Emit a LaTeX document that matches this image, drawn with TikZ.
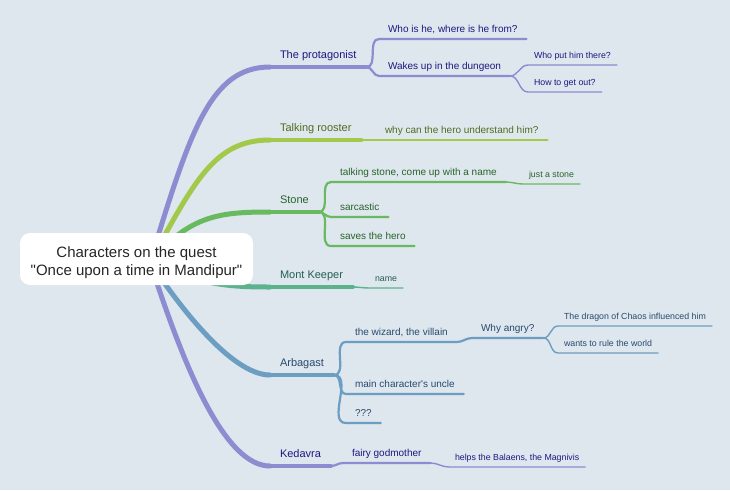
\documentclass[tikz,border=0pt]{standalone}
\usepackage{fontspec}
\setmainfont{Liberation Sans}
\usetikzlibrary{backgrounds}
\definecolor{mapbg}{RGB}{222,230,238}
\definecolor{purpline}{RGB}{140,140,208}
\definecolor{purptext}{RGB}{26,26,128}
\definecolor{roosline}{RGB}{163,201,74}
\definecolor{roostext}{RGB}{80,110,30}
\definecolor{stoneline}{RGB}{104,186,96}
\definecolor{stonetext}{RGB}{40,100,40}
\definecolor{montline}{RGB}{92,178,140}
\definecolor{monttext}{RGB}{35,95,80}
\definecolor{arbline}{RGB}{108,158,194}
\definecolor{arbtext}{RGB}{40,75,110}

\begin{document}
\begin{tikzpicture}[x=1pt, y=-1pt,
    topic/.style={anchor=south west, text depth=0pt, outer sep=0pt, inner ysep=#1},
    lone/.style={topic=9pt, inner xsep=10pt, font=\fontsize{11}{13}\selectfont},
    ltwo/.style={topic=7pt, inner xsep=9pt, font=\fontsize{10}{12}\selectfont},
    lthree/.style={topic=7pt, inner xsep=6pt, font=\fontsize{8.8}{10}\selectfont},
    rootbox/.style={fill=white, rounded corners=10pt, minimum width=233pt,
                    minimum height=52pt, text height=35pt, text depth=3pt,
                    align=center, text=black!85, font=\fontsize{15}{18}\selectfont},
    bmain/.style={line width=5pt, line cap=round},
    bone/.style={line width=4pt, line cap=round},
    btwo/.style={line width=2.2pt, line cap=round},
    bthree/.style={line width=1.4pt, line cap=round},
]
\useasboundingbox (0,0) rectangle (730,490);

\node[rootbox] (root) at (136.5,259)
    {Characters on the quest\\\textquotedbl Once upon a time in Mandipur\textquotedbl};
\coordinate (hub) at (150,262);

% the protagonist
\node[lone, text=purptext] (prot) at (270,67) {The protagonist};
\node[ltwo, text=purptext] (who) at (379,39) {Who is he, where is he from?};
\node[ltwo, text=purptext] (wake) at (379,76) {Wakes up in the dungeon};
\node[lthree, text=purptext] (wput) at (528,65) {Who put him there?};
\node[lthree, text=purptext] (howout) at (528,92) {How to get out?};

% talking rooster
\node[lone, text=roostext] (rooster) at (270,140) {Talking rooster};
\node[ltwo, text=roostext] (why) at (376,140) {why can the hero understand him?};

% stone
\node[lone, text=stonetext] (stone) at (270,212) {Stone};
\node[ltwo, text=stonetext] (tstone) at (331,182) {talking stone, come up with a name};
\node[lthree, text=stonetext] (jstone) at (523,184) {just a stone};
\node[ltwo, text=stonetext] (sarc) at (331,217) {sarcastic};
\node[ltwo, text=stonetext] (saves) at (331,246) {saves the hero};

% mont keeper
\node[lone, text=monttext] (mont) at (270,287) {Mont Keeper};
\node[lthree, text=monttext] (name) at (369,288) {name};

% arbagast
\node[lone, text=arbtext] (arb) at (270,375) {Arbagast};
\node[ltwo, text=arbtext] (wiz) at (346,342) {the wizard, the villain};
\node[ltwo, text=arbtext] (whyang) at (472,338) {Why angry?};
\node[lthree, text=arbtext] (dragon) at (558,326) {The dragon of Chaos influenced him};
\node[lthree, text=arbtext] (rule) at (558,353) {wants to rule the world};
\node[ltwo, text=arbtext] (uncle) at (346,394) {main character\textquotesingle s uncle};
\node[ltwo, text=arbtext] (qqq) at (346,423) {???};

% kedavra
\node[lone, text=purptext] (ked) at (270,466) {Kedavra};
\node[ltwo, text=purptext] (fairy) at (343,463) {fairy godmother};
\node[lthree, text=purptext] (helps) at (449,467) {helps the Balaens, the Magnivis};

\begin{scope}[on background layer]
\fill[mapbg] (0,0) rectangle (730,490);

% branches out of the centre
\draw[bmain, purpline] (hub) .. controls +(40,-130) and +(-60,0) .. (prot.south west);
\draw[bmain, roosline] (hub) .. controls +(45,-82) and +(-55,0) .. (rooster.south west);
\draw[bmain, stoneline] (hub) .. controls +(40,-47) and +(-50,0) .. (stone.south west);
\draw[bmain, montline] (hub) .. controls +(50,23) and +(-40,0) .. (mont.south west);
\draw[bmain, arbline] (hub) .. controls +(25,38) and +(-40,0) .. (arb.south west);
\draw[bmain, purpline] (hub) .. controls +(35,108) and +(-45,0) .. (ked.south west);

% the protagonist
\draw[bone, purpline] (prot.south west) -- (prot.south east);
\draw[btwo, purpline] (prot.south east) to[out=0,in=180] (who.south west) -- (who.south east);
\draw[btwo, purpline] (prot.south east) to[out=0,in=180] (wake.south west) -- (wake.south east);
\draw[bthree, purpline] (wake.south east) to[out=0,in=180] (wput.south west) -- (wput.south east);
\draw[bthree, purpline] (wake.south east) to[out=0,in=180] (howout.south west) -- (howout.south east);

% talking rooster
\draw[bone, roosline] (rooster.south west) -- (rooster.south east);
\draw[btwo, roosline] (rooster.south east) to[out=0,in=180] (why.south west) -- (why.south east);

% stone
\draw[bone, stoneline] (stone.south west) -- (stone.south east);
\draw[btwo, stoneline] (stone.south east) to[out=0,in=180] (tstone.south west) -- (tstone.south east);
\draw[bthree, stoneline] (tstone.south east) to[out=0,in=180] (jstone.south west) -- (jstone.south east);
\draw[btwo, stoneline] (stone.south east) to[out=0,in=180] (sarc.south west) -- (sarc.south east);
\draw[btwo, stoneline] (stone.south east) to[out=0,in=180] (saves.south west) -- (saves.south east);

% mont keeper
\draw[bone, montline] (mont.south west) -- (mont.south east);
\draw[bthree, montline] (mont.south east) to[out=0,in=180] (name.south west) -- (name.south east);

% arbagast
\draw[bone, arbline] (arb.south west) -- (arb.south east);
\draw[btwo, arbline] (arb.south east) to[out=0,in=180] (wiz.south west) -- (wiz.south east);
\draw[btwo, arbline] (wiz.south east) to[out=0,in=180] (whyang.south west) -- (whyang.south east);
\draw[bthree, arbline] (whyang.south east) to[out=0,in=180] (dragon.south west) -- (dragon.south east);
\draw[bthree, arbline] (whyang.south east) to[out=0,in=180] (rule.south west) -- (rule.south east);
\draw[btwo, arbline] (arb.south east) to[out=0,in=180] (uncle.south west) -- (uncle.south east);
\draw[btwo, arbline] (arb.south east) to[out=0,in=180] (qqq.south west) -- (qqq.south east);

% kedavra
\draw[bone, purpline] (ked.south west) -- (ked.south east);
\draw[btwo, purpline] (ked.south east) to[out=0,in=180] (fairy.south west) -- (fairy.south east);
\draw[bthree, purpline] (fairy.south east) to[out=0,in=180] (helps.south west) -- (helps.south east);
\end{scope}
\end{tikzpicture}
\end{document}
